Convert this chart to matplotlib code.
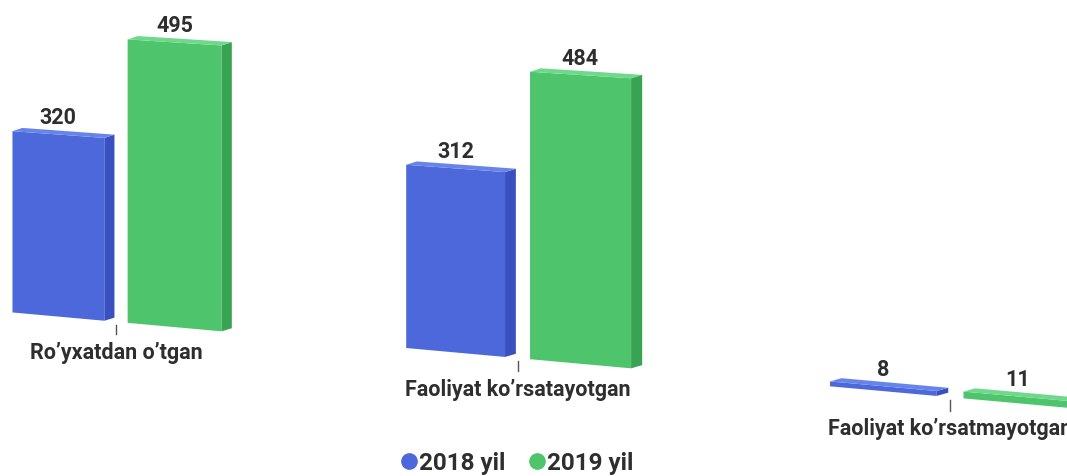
import numpy as np
import matplotlib
matplotlib.use("Agg")
import matplotlib.pyplot as plt
from matplotlib.transforms import Transform
from matplotlib.lines import Line2D

plt.rcParams['font.family'] = ['Roboto', 'DejaVu Sans']

categories = ["Ro\u2019yxatdan o\u2019tgan", "Faoliyat ko\u2019rsatayotgan", "Faoliyat ko\u2019rsatmayotgan"]
series_names = ["2018 yil", "2019 yil"]
values_2018 = [320, 312, 8]
values_2019 = [495, 484, 11]

# ranglar: old yuz, yon yuz, tepa yuz
blue = ("#4c68da", "#3a50c0", "#6884ea")
green = ("#4ec46c", "#38a352", "#6fd88a")
text_color = "#2e2e2e"


class Perspektiva(Transform):
    """(kategoriya, qiymat) -> piksel, oddiy proyektiv o'zgartirish"""
    input_dims = 2
    output_dims = 2
    is_separable = False

    def __init__(self, H):
        super().__init__()
        self.H = np.asarray(H, float)

    def transform_non_affine(self, values):
        values = np.asarray(values, float)
        v = np.column_stack([values, np.ones(len(values))]) @ self.H.T
        return v[:, :2] / v[:, 2:3]


W, Hh = 1067, 477
fig = plt.figure(figsize=(W / 100, Hh / 100), dpi=100)
ax = fig.add_axes([0, 0, 1, 1])
ax.set_xlim(0, W)
ax.set_ylim(0, Hh)
ax.axis("off")

H = [[383.0, 0.0, 116.0],
     [-40.5, 0.572, 154.2],
     [-0.0358, 0.0, 1.0]]
tr = Perspektiva(H) + ax.transData

x = np.arange(len(categories))
width = 0.24
offset = 0.15
du, dv = 0.026, 7.0  # chuqurlik


def bar3d(xs, vals, cols):
    front, side, top = cols
    for xc, val in zip(xs, vals):
        x0 = xc - width / 2
        x1 = xc + width / 2
        ax.bar(xc, val, width=width, color=front, transform=tr, zorder=2)
        ax.fill([x1, x1 + du, x1 + du, x1], [0, dv, val + dv, val],
                color=side, transform=tr, zorder=2, lw=0)
        ax.fill([x0, x1, x1 + du, x0 + du], [val, val, val + dv, val + dv],
                color=top, transform=tr, zorder=2, lw=0)
        ax.annotate(str(val), xy=(xc, val), xycoords=tr, xytext=(0, 8),
                    textcoords="offset points", ha="center", va="baseline",
                    fontsize=15.5, fontweight="bold", color=text_color)


bar3d(x - offset, values_2018, blue)
bar3d(x + offset, values_2019, green)

for i, name in enumerate(categories):
    ax.plot([i, i], [-5, -22], color="#555555", lw=1, transform=tr)
    ax.annotate(name, xy=(i, 0), xycoords=tr, xytext=(0, -22),
                textcoords="offset points", ha="center", va="center",
                fontsize=15.5, fontweight="bold", color=text_color)

handles = [Line2D([], [], marker="o", ls="", markersize=11, color=c[0]) for c in (blue, green)]
fig.legend(handles, series_names, loc="center", bbox_to_anchor=(518 / W, 1 - 464 / Hh),
           ncol=2, frameon=False, handlelength=0.55, handletextpad=0.15, columnspacing=1.0,
           prop={"weight": "bold", "size": 17.5}, labelcolor=text_color)

fig.savefig("out.png", dpi=100, facecolor="white")
